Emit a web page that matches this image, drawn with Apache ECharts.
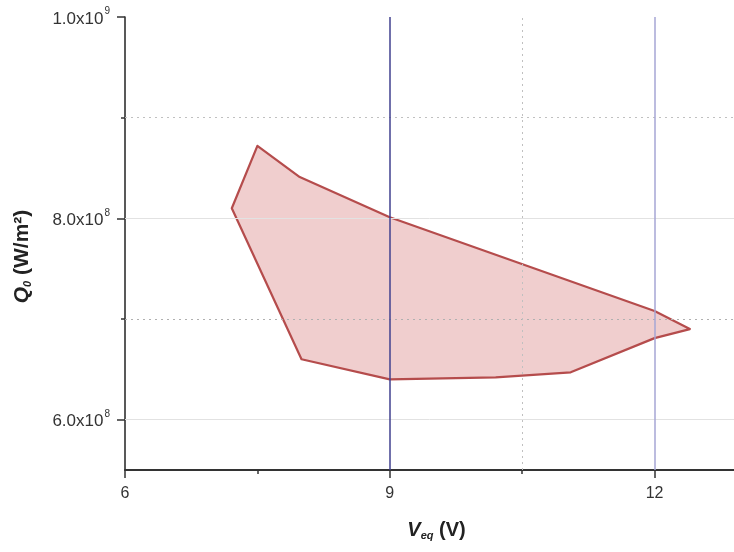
<!DOCTYPE html>
<html>
<head>
<meta charset="utf-8">
<script src="https://cdn.jsdelivr.net/npm/echarts@6/dist/echarts.min.js"></script>
<style>html,body{margin:0;padding:0;background:#fff}#c{width:734px;height:552px}</style>
</head>
<body>
<div id="c"></div>
<script>
// Polygon boundary (V_eq in volts, Q0 in W/m^2)
var veq = [7.50, 7.98, 9.00, 12.00, 12.40, 12.00, 11.05, 10.20, 9.00, 8.00, 7.21];
var q0  = [8.72e8, 8.41e8, 8.01e8, 7.08e8, 6.90e8, 6.81e8, 6.47e8, 6.42e8, 6.40e8, 6.60e8, 8.10e8];
// Axis ticks
var xTicks = [6, 9, 12];
var xMinorTicks = [7.5, 10.5];
var yMajorTicks = [6e8, 8e8, 1e9];
var yMinorTicks = [7e8, 9e8];
var xMinorGrid = [10.5];
// Reference vertical lines
var refLines = [9, 12];

var font = '"Liberation Sans", Arial, sans-serif';
var chart = echarts.init(document.getElementById('c'), null, {renderer: 'canvas'});

function yLabel(v) {
  var e = Math.floor(Math.log10(v) + 1e-9);
  var m = v / Math.pow(10, e);
  return '{m|' + m.toFixed(1) + 'x10}{s|' + e + '}';
}

var polyPoints = veq.map(function (x, i) { return [x, q0[i]]; });

var option = {
  backgroundColor: '#fff',
  animation: false,
  grid: {left: 125, top: 17, right: -2, bottom: 82, containLabel: false},
  xAxis: [{
    type: 'value', min: 6, max: 12.9, interval: 3,
    name: '{v|V}{sub|eq}{t| (V)}',
    nameLocation: 'middle', nameGap: 50,
    nameTextStyle: {
      padding: [0, 0, 0, 14],
      rich: {
        v: {fontFamily: font, fontSize: 20, fontWeight: 'bold', fontStyle: 'italic', color: '#222'},
        sub: {fontFamily: font, fontSize: 11, fontWeight: 'bold', fontStyle: 'italic', color: '#222', verticalAlign: 'bottom', padding: [10, 0, 0, 0]},
        t: {fontFamily: font, fontSize: 20, fontWeight: 'bold', color: '#222'}
      }
    },
    axisLine: {show: true, onZero: false, lineStyle: {color: '#333', width: 2}},
    axisTick: {show: true, inside: false, length: 8, customValues: xTicks, lineStyle: {color: '#333', width: 1.5}},
    axisLabel: {fontFamily: font, fontSize: 16, color: '#333', margin: 16, customValues: xTicks},
    splitLine: {show: false}
  }, {
    type: 'value', min: 6, max: 12.9, position: 'bottom',
    axisLine: {show: false},
    axisTick: {show: true, inside: false, length: 4, customValues: xMinorTicks, lineStyle: {color: '#333', width: 1.5}},
    axisLabel: {show: false},
    splitLine: {show: false}
  }],
  yAxis: [{
    type: 'value', min: 5.5e8, max: 1e9,
    name: '{q|Q}{sub|0}{t| (W/m²)}',
    nameLocation: 'middle', nameGap: 92, nameRotate: 90,
    nameTextStyle: {
      padding: [0, 26, 0, 0],
      rich: {
        q: {fontFamily: font, fontSize: 21, fontWeight: 'bold', fontStyle: 'italic', color: '#222'},
        sub: {fontFamily: font, fontSize: 11, fontWeight: 'bold', fontStyle: 'italic', color: '#222', verticalAlign: 'bottom', padding: [10, 0, 0, 0]},
        t: {fontFamily: font, fontSize: 21, fontWeight: 'bold', color: '#222'}
      }
    },
    axisLine: {show: true, onZero: false, lineStyle: {color: '#222', width: 1.5}},
    axisTick: {show: true, inside: false, length: 8, customValues: yMajorTicks, lineStyle: {color: '#333', width: 1.5}},
    axisLabel: {customValues: yMajorTicks, margin: 15, formatter: yLabel,
      rich: {
        m: {fontFamily: font, fontSize: 17, color: '#333', padding: [4, 0, 0, 0]},
        s: {fontFamily: font, fontSize: 10, color: '#333', verticalAlign: 'top', padding: [0, 0, 9, 1]}
      }},
    splitLine: {show: false}
  }, {
    type: 'value', min: 5.5e8, max: 1e9, position: 'left',
    axisLine: {show: false},
    axisTick: {show: true, inside: false, length: 4, customValues: yMinorTicks, lineStyle: {color: '#333', width: 1.5}},
    axisLabel: {show: false},
    splitLine: {show: false}
  }],
  series: [
    {
      type: 'line', data: [], z: 1, silent: true,
      markLine: {
        silent: true, symbol: 'none', label: {show: false}, animation: false,
        data: [
          {yAxis: yMajorTicks[0], lineStyle: {color: '#e2e2e2', width: 1, type: 'solid'}},
          {yAxis: yMajorTicks[1], lineStyle: {color: '#e2e2e2', width: 1, type: 'solid'}},
          {yAxis: yMinorTicks[0], lineStyle: {color: '#b0b0b0', width: 1, type: [2, 4]}},
          {yAxis: yMinorTicks[1], lineStyle: {color: '#c0c0c0', width: 1, type: [2, 4]}},
          {xAxis: xMinorGrid[0], lineStyle: {color: '#c0c0c0', width: 1, type: [2, 4]}}
        ]
      }
    },
    {
      type: 'custom', z: 3, silent: true,
      data: [0],
      renderItem: function (params, api) {
        var pts = polyPoints.map(function (p) { return api.coord(p); });
        return {
          type: 'polygon',
          shape: {points: pts},
          style: {fill: 'rgba(200,75,75,0.27)', stroke: '#b54c4c', lineWidth: 2.2, lineJoin: 'round'}
        };
      }
    },
    {
      type: 'line', data: [], z: 5, silent: true,
      markLine: {
        silent: true, symbol: 'none', label: {show: false}, animation: false,
        data: [
          {xAxis: refLines[0], lineStyle: {color: '#40408f', width: 1.5, type: 'solid'}},
          {xAxis: refLines[1], lineStyle: {color: '#a6a6d4', width: 1.5, type: 'solid'}}
        ]
      }
    }
  ]
};
chart.setOption(option);
</script>
</body>
</html>
